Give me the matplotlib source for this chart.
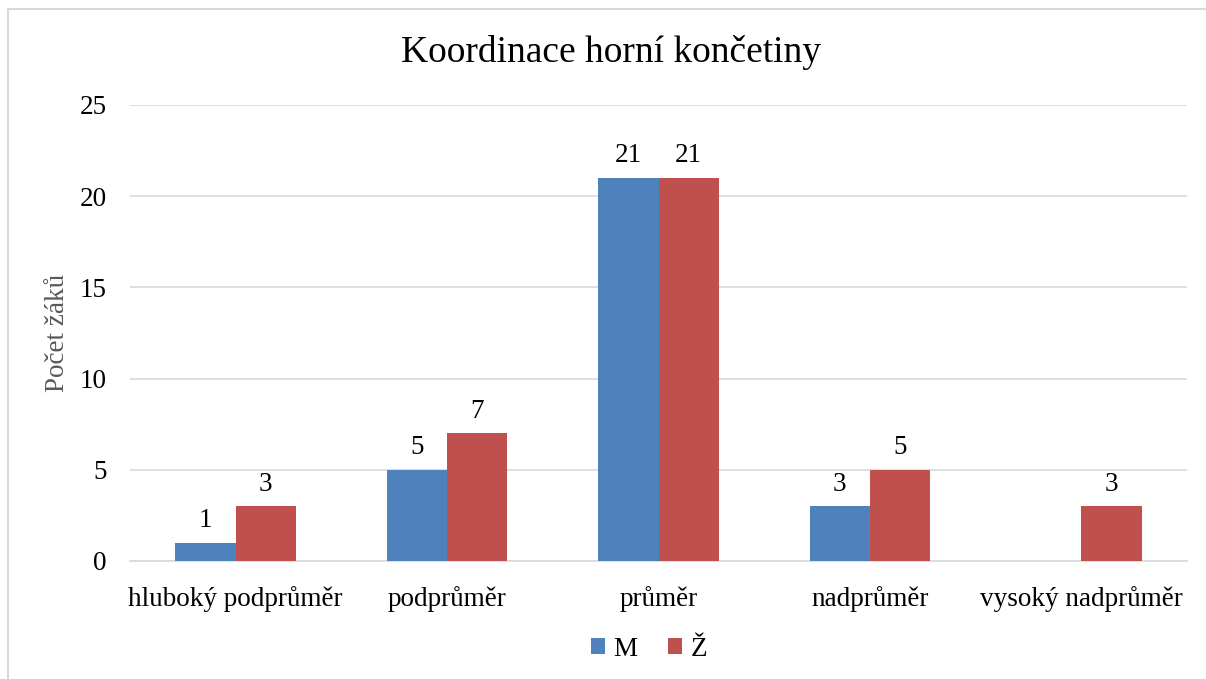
import matplotlib
matplotlib.use("Agg")
import matplotlib.pyplot as plt
import numpy as np
from matplotlib.patches import Rectangle

categories = ["hluboký podprůměr", "podprůměr", "průměr", "nadprůměr", "vysoký nadprůměr"]
series_names = ["M", "Ž"]
m_values = [1, 5, 21, 3, 0]
z_values = [3, 7, 21, 5, 3]
y_ticks = [0, 5, 10, 15, 20, 25]

plt.rcParams['font.family'] = ['Liberation Serif', 'DejaVu Serif']

fig = plt.figure(figsize=(12.06, 6.79), dpi=100)
ax = fig.add_axes([130/1206, 1-561/679, (1187-130)/1206, (561-105)/679])

x = np.arange(len(categories))
w = 0.285
colors = ["#4F81BD", "#C0504D"]
b1 = ax.bar(x - w/2, m_values, w, color=colors[0], label=series_names[0], zorder=3)
b2 = ax.bar(x + w/2, z_values, w, color=colors[1], label=series_names[1], zorder=3)

fs = 19.5
for bars, vals in ((b1, m_values), (b2, z_values)):
    for rect, v in zip(bars, vals):
        if v == 0:
            continue
        ax.annotate(str(v), (rect.get_x() + rect.get_width()/2, v), xytext=(0, 7),
                    textcoords="offset points", ha="center", va="bottom", fontsize=fs)

ax.set_xlim(-0.5, len(categories) - 0.5)
ax.set_ylim(0, 25)
ax.set_yticks(y_ticks)
ax.set_xticks(x)
ax.set_xticklabels(categories, fontsize=fs)
ax.tick_params(axis='y', labelsize=fs, length=0, pad=17)
ax.tick_params(axis='x', length=0, pad=18)
ax.grid(axis='y', color="#D9D9D9", linewidth=1.2, zorder=0)
for s in ["top", "right", "left"]:
    ax.spines[s].set_visible(False)
ax.spines["bottom"].set_color("#D9D9D9")
ax.spines["bottom"].set_linewidth(1.2)
ax.set_axisbelow(True)

ax.set_ylabel("Počet žáků", fontsize=fs, color="#595959")
ax.yaxis.set_label_coords((70 - 130)/1057, 0.5)

fig.text(0.507, 1-52/679, "Koordinace horní končetiny", ha="center", va="center", fontsize=27)

fig.legend(handles=[b1, b2], labels=series_names, loc="center", bbox_to_anchor=(649/1206, 1-649/679),
           ncol=2, frameon=False, fontsize=fs, handlelength=0.52, handleheight=0.52,
           columnspacing=1.15, handletextpad=0.3)

fig.patches.append(Rectangle((8/1206, -0.05), 1.2, 1.05 - 9/679, transform=fig.transFigure,
                             fill=False, edgecolor="#D9D9D9", linewidth=1.5))

fig.savefig("out.png", dpi=100)
